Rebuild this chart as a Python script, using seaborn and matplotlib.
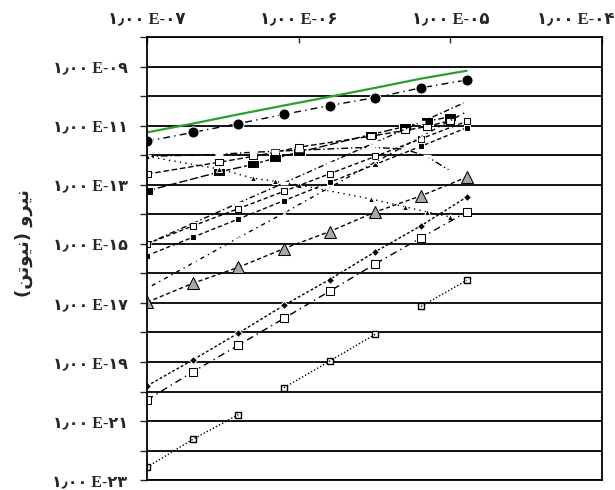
import numpy as np
import pandas as pd
import matplotlib
matplotlib.use("Agg")
import matplotlib.pyplot as plt
import matplotlib.transforms as mtransforms
import seaborn as sns

# two sets of sizes used by the series
x_double = [1e-7, 2e-7, 4e-7, 8e-7, 1.6e-6, 3.2e-6, 6.4e-6, 1.28e-5]
x_mid = [1e-7, 3e-7, 5e-7, 7e-7, 1e-6, 3e-6, 5e-6, 7e-6, 1e-5]

# series on x_double
green_line = [5.9e-12, 1.17e-11, 2.4e-11, 4.8e-11, 9.5e-11, 1.9e-10, 3.9e-10, 7.2e-10]
circles = [2.95e-12, 5.9e-12, 1.17e-11, 2.4e-11, 4.8e-11, 8.9e-11, 1.9e-10, 3.5e-10]
dash_low = [1.0e-15, 4.9e-15, 2.4e-14, 1.15e-13, 5.6e-13, 2.7e-12, 1.3e-11, 6.5e-11]
open_sq_low = [1.0e-15, 4.0e-15, 1.55e-14, 6.0e-14, 2.35e-13, 9.1e-13, 3.6e-12, 1.4e-11]
fill_sq_low = [4.0e-16, 1.66e-15, 6.9e-15, 2.9e-14, 1.2e-13, 4.9e-13, 2.0e-12, 8.5e-12]
cross_low = [3.1e-17, 2.2e-16, 1.6e-15, 1.1e-14, 8.1e-14, 5.8e-13, 4.2e-12, 3.0e-11]
gray_tri = [1.05e-17, 4.6e-17, 1.6e-16, 6.9e-16, 2.6e-15, 1.2e-14, 4.2e-14, 1.8e-13]
fill_small = [1.55e-20, 1.17e-19, 9.5e-19, 8.3e-18, 6.2e-17, 5.4e-16, 4.1e-15, 3.8e-14]
open_sq_b = [5.2e-21, 4.6e-20, 3.7e-19, 3.0e-18, 2.5e-17, 2.1e-16, 1.6e-15, 1.2e-14]
open_sq_bottom = [2.75e-23, 2.4e-22, 1.66e-21, 1.35e-20, 1.07e-19, 8.7e-19, 7.6e-18, 5.8e-17]

# series on x_mid
fill_sq_mid = [6.2e-14, 2.7e-13, 4.9e-13, 7.9e-13, 1.26e-12, 5.0e-12, 9.3e-12, 1.4e-11, 2.0e-11]
open_sq_mid = [2.3e-13, 5.8e-13, 9.1e-13, 1.26e-12, 1.86e-12, 4.4e-12, 6.9e-12, 9.3e-12, 1.48e-11]
hump = [9.1e-13, 1.07e-12, 1.26e-12, 1.35e-12, 1.48e-12, 1.86e-12, 1.6e-12, 9.1e-13, 2.9e-13]
tri_down = [9.1e-13, 3.4e-13, 1.66e-13, 1.3e-13, 9.8e-14, 3.3e-14, 1.8e-14, 1.2e-14, 8.1e-15]

x_exps = ["۰۷", "۰۶", "۰۵", "۰۴"]
y_exps = ["۲۳", "۲۱", "۱۹", "۱۷", "۱۵", "۱۳", "۱۱", "۰۹"]
# "نیرو (نیوتن)" written with presentation forms in visual order
y_title = "(\uFEE6\uFE97\uFEEE\uFBFF\uFEE7) \uFEED\uFEAE\uFBFF\uFEE7"

sns.set_style("white")
plt.rcParams['font.family'] = ['Liberation Serif', 'DejaVu Sans']

fig = plt.figure(figsize=(6.15, 4.9), dpi=100)
ax = fig.add_axes([0.239, 0.02, 0.74, 0.9045])
ax.set_xscale('log')
ax.set_yscale('log')
ax.set_xlim(1e-7, 1e-4)
ax.set_ylim(1e-23, 1e-8)
ax.set_axisbelow(True)

wide_box = [(-1.5, -1), (1.5, -1), (1.5, 1), (-1.5, 1), (-1.5, -1)]
k = dict(color='k', lw=1)
series = [
    (x_double, green_line, dict(color='#2ca02c', lw=1.6, linestyle='-')),
    (x_double, circles, dict(k, linestyle=(0, (5, 3, 1, 3)), marker='o', markersize=8)),
    (x_mid, fill_sq_mid, dict(k, linestyle=(0, (6, 2)), marker=wide_box, markersize=8)),
    (x_mid, open_sq_mid, dict(k, linestyle=(0, (4, 2)), marker=wide_box, markersize=6, mfc='w', mec='k')),
    (x_mid, hump, dict(k, linestyle=(0, (5, 2, 1, 2)), marker='_', markersize=6, mew=2.5)),
    (x_mid, tri_down, dict(k, linestyle=(0, (1, 3)), marker='^', markersize=4)),
    (x_double, dash_low, dict(k, linestyle=(0, (4, 2, 1, 2)), marker='_', markersize=6, mew=2.5)),
    (x_double, open_sq_low, dict(k, linestyle=(0, (3, 2)), marker='s', markersize=5, mfc='w', mec='k')),
    (x_double, fill_sq_low, dict(k, linestyle=(0, (3, 2)), marker='s', markersize=5)),
    (x_double, cross_low, dict(k, linestyle=(0, (1, 3, 3, 3)), marker='x', markersize=4)),
    (x_double, gray_tri, dict(k, linestyle=(0, (3, 2)), marker='^', markersize=8, mfc='#a8a8a8', mec='k')),
    (x_double, fill_small, dict(k, linestyle=(0, (2, 1.5)), marker='D', markersize=4)),
    (x_double, open_sq_b, dict(k, linestyle=(0, (5, 3, 1, 3)), marker='s', markersize=6, mfc='w', mec='k')),
]
for xs, vals, kw in series:
    sns.lineplot(x=xs, y=vals, ax=ax, sort=False, **kw)

# bottom dotted series is broken into pieces in the source
ax.plot(x_double, open_sq_bottom, ls='none', marker='s', markersize=4, mfc='w', mec='k')
for a, b in [(0, 3), (3, 6), (6, 8)]:
    sns.lineplot(x=x_double[a:b], y=open_sq_bottom[a:b], ax=ax, sort=False,
                 color='k', lw=1, linestyle=(0, (1, 1.5)))

# axes, ticks and grid
ax.xaxis.tick_top()
ax.set_xticks([1e-7, 1e-6, 1e-5, 1e-4])
ax.set_xticklabels([f"۱٫۰۰ E-{e}" for e in x_exps], fontsize=12, fontweight='bold')
ax.xaxis.set_minor_locator(matplotlib.ticker.NullLocator())
ax.tick_params(axis='x', direction='in', length=4, width=1, pad=7, top=True, bottom=False)
last = ax.get_xticklabels()[-1]
last.set_ha('right')
last.set_transform(last.get_transform() + mtransforms.ScaledTranslation(0.12, 0, fig.dpi_scale_trans))

ax.set_yticks([10.0 ** -p for p in range(23, 7, -1)])
ylabels = []
for p in range(23, 7, -1):
    ylabels.append(f"۱٫۰۰ E-{y_exps[(23 - p) // 2]}" if p % 2 == 1 else "")
ax.set_yticklabels(ylabels, fontsize=11.5, fontweight='bold')
ax.yaxis.set_minor_locator(matplotlib.ticker.NullLocator())
ax.tick_params(axis='y', direction='out', length=5, width=1, pad=9, left=True)
ax.yaxis.grid(True, color='k', lw=1.3)
ax.xaxis.grid(False)
for s in ax.spines.values():
    s.set_color('k')
    s.set_linewidth(1.3)

ax.set_xlabel('')
ax.set_ylabel(y_title, fontsize=13, fontweight='bold', family='DejaVu Sans')
ax.yaxis.set_label_coords(-0.25, 0.534)

fig.savefig('out.png', dpi=100)
